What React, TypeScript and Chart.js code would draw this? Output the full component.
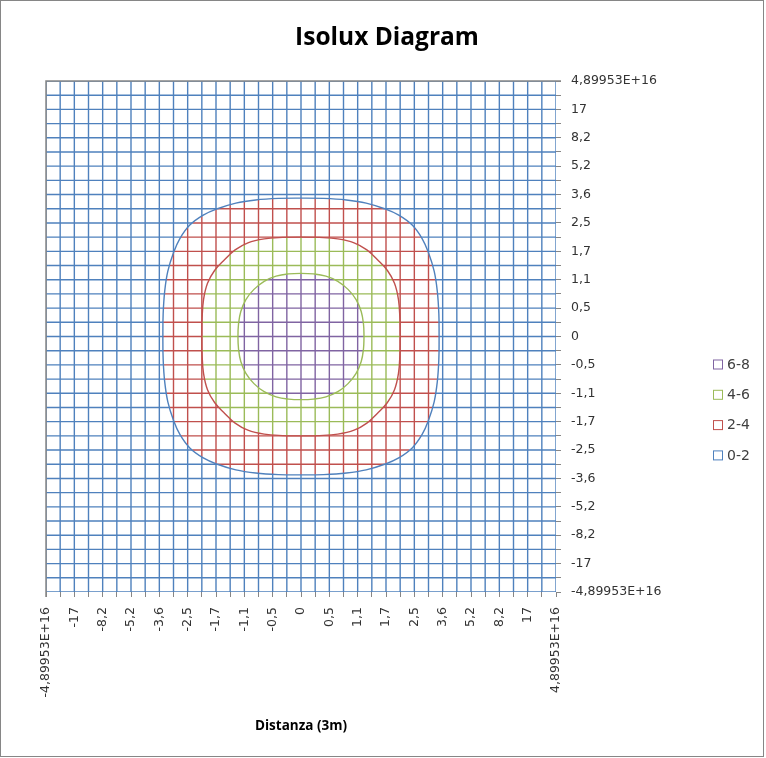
import React, { useEffect, useRef } from 'react';
import { Chart, registerables } from 'chart.js';

Chart.register(...registerables);

// Tick labels (3m * tan(angle), angle step 10°), shown on every other grid line
const axisLabels = [
  '-4,89953E+16', '-17', '-8,2', '-5,2', '-3,6', '-2,5', '-1,7', '-1,1', '-0,5', '0',
  '0,5', '1,1', '1,7', '2,5', '3,6', '5,2', '8,2', '17', '4,89953E+16',
];

// Legend bands (top to bottom)
const bandLabels = ['6-8', '4-6', '2-4', '0-2'];
const bandColors = ['#8064A2', '#9BBB59', '#C0504D', '#4F81BD'];

// Isolux contour curves, one quadrant each
// (offset from centre in grid cells; the diagram is symmetric)
const contour2 = [
  [9.75, 0], [9.73, 1.6], [9.62, 3.2], [9.4, 4.6], [9.0, 5.9], [8.55, 6.9], [7.85, 7.85],
  [6.9, 8.55], [5.9, 9.0], [4.6, 9.4], [3.2, 9.62], [1.6, 9.73], [0, 9.75],
];
const contour4 = [
  [7.0, 0], [6.98, 1.3], [6.88, 2.6], [6.6, 3.75], [6.1, 4.65], [5.4, 5.4],
  [4.65, 6.1], [3.75, 6.6], [2.6, 6.88], [1.3, 6.98], [0, 7.0],
];
const contour6 = [
  [4.45, 0], [4.41, 0.88], [4.25, 1.76], [3.89, 2.6], [3.32, 3.32],
  [2.6, 3.89], [1.76, 4.25], [0.88, 4.41], [0, 4.45],
];

const GRID_N = 36;
const C = GRID_N / 2;

type P = { x: number; y: number };

function crossAt(curve: number[][], v: number): number | null {
  for (let i = 0; i < curve.length - 1; i++) {
    const [a0, b0] = curve[i];
    const [a1, b1] = curve[i + 1];
    const lo = Math.min(b0, b1), hi = Math.max(b0, b1);
    if (v >= lo && v <= hi) {
      if (hi === lo) return Math.max(a0, a1);
      const t = (v - b0) / (b1 - b0);
      return a0 + t * (a1 - a0);
    }
  }
  return null;
}

function buildGrid() {
  const bands: P[][] = [[], [], [], []]; // 0-2, 2-4, 4-6, 6-8
  const curves = [contour2, contour4, contour6];
  const swapped = curves.map((c) => c.map(([x, y]) => [y, x]));
  for (let i = 0; i <= GRID_N; i++) {
    const k = i - C;
    for (const dir of ['h', 'v']) {
      const cs = dir === 'h' ? curves : swapped;
      const w = cs.map((c) => crossAt(c, Math.abs(k)));
      const segs: [number, number, number][] = [];
      if (w[0] == null) segs.push([0, -C, C]);
      else {
        segs.push([0, -C, -w[0]], [0, w[0], C]);
        if (w[1] == null) segs.push([1, -w[0], w[0]]);
        else {
          segs.push([1, -w[0], -w[1]], [1, w[1], w[0]]);
          if (w[2] == null) segs.push([2, -w[1], w[1]]);
          else segs.push([2, -w[1], -w[2]], [2, w[2], w[1]], [3, -w[2], w[2]]);
        }
      }
      for (const [b, a, e] of segs) {
        if (dir === 'h') bands[b].push({ x: C + a, y: C + k }, { x: C + e, y: C + k });
        else bands[b].push({ x: C + k, y: C + a }, { x: C + k, y: C + e });
        bands[b].push({ x: NaN, y: NaN });
      }
    }
  }
  return bands;
}

function loop(q: number[][]): P[] {
  const pts: P[] = [];
  q.forEach(([x, y]) => pts.push({ x: C + x, y: C + y }));
  q.slice().reverse().slice(1).forEach(([x, y]) => pts.push({ x: C - x, y: C + y }));
  q.slice(1).forEach(([x, y]) => pts.push({ x: C - x, y: C - y }));
  q.slice().reverse().slice(1).forEach(([x, y]) => pts.push({ x: C + x, y: C - y }));
  return pts;
}

const decorPlugin = {
  id: 'decor',
  afterDatasetsDraw(chart: any) {
    const { ctx, chartArea } = chart;
    ctx.save();
    ctx.strokeStyle = '#868686';
    ctx.lineWidth = 1.5;
    ctx.beginPath();
    ctx.moveTo(chartArea.left, chartArea.bottom + 5);
    ctx.lineTo(chartArea.left, chartArea.top);
    ctx.lineTo(chartArea.right + 5, chartArea.top);
    ctx.stroke();
    ctx.restore();
  },
  afterDraw(chart: any) {
    const { ctx, chartArea } = chart;
    ctx.save();
    // outer frame
    ctx.strokeStyle = '#868686';
    ctx.lineWidth = 1;
    ctx.strokeRect(0.5, 0.5, 763, 756);
    // title
    ctx.fillStyle = '#000';
    ctx.font = 'bold 24.5px "Open Sans"';
    ctx.textAlign = 'center';
    ctx.textBaseline = 'middle';
    ctx.fillText('Isolux Diagram', 387, 38);
    // axis title
    ctx.font = 'bold 13.5px "Open Sans"';
    ctx.fillText('Distanza (3m)', (chartArea.left + chartArea.right) / 2, 726);
    // legend
    ctx.textAlign = 'left';
    ctx.font = '14px "DejaVu Sans"';
    bandLabels.forEach((lab, i) => {
      const y = 364.5 + i * 30.3;
      ctx.fillStyle = '#fff';
      ctx.fillRect(713.5, y - 4.5, 9, 9);
      ctx.strokeStyle = bandColors[i];
      ctx.lineWidth = 1;
      ctx.strokeRect(713.5, y - 4.5, 9, 9);
      ctx.fillStyle = '#404040';
      ctx.fillText(lab, 727, y + 0.5);
    });
    ctx.restore();
  },
};

export default function App() {
  const ref = useRef<HTMLCanvasElement>(null);
  useEffect(() => {
    if (!ref.current) return;
    const bands = buildGrid();
    const gridColors = ['#4F81BD', '#C0504D', '#9BBB59', '#8064A2'];
    const gridNames = ['0-2', '2-4', '4-6', '6-8'];
    const datasets: any[] = bands.map((data, i) => ({
      label: gridNames[i],
      data,
      showLine: true,
      spanGaps: false,
      borderColor: gridColors[i],
      borderWidth: 1.4,
      pointRadius: 0,
      tension: 0,
      order: 10 - i,
    }));
    const contours = [
      { q: contour2, color: '#4F81BD' },
      { q: contour4, color: '#C0504D' },
      { q: contour6, color: '#9BBB59' },
    ];
    contours.forEach((c, i) => {
      datasets.push({
        label: 'contour' + i,
        data: loop(c.q),
        showLine: true,
        borderColor: c.color,
        borderWidth: 1.4,
        pointRadius: 0,
        tension: 0.4,
        order: 1,
      });
    });
    const tickFont = { family: '"DejaVu Sans"', size: 12.5 };
    const cb = (v: any) => (Number(v) % 2 === 0 ? axisLabels[Number(v) / 2] : '');
    const chart = new Chart(ref.current, {
      type: 'scatter',
      data: { datasets },
      options: {
        responsive: false,
        devicePixelRatio: 1,
        animation: false,
        layout: { padding: { left: 46, top: 81, right: 0, bottom: 0 } },
        plugins: { legend: { display: false }, title: { display: false }, tooltip: { enabled: false } },
        scales: {
          x: {
            type: 'linear', min: 0, max: GRID_N, position: 'bottom',
            afterFit: (s: any) => { s.height = 166; },
            ticks: {
              stepSize: 1, autoSkip: false, maxTicksLimit: 100, maxRotation: 90, minRotation: 90,
              padding: 10, font: tickFont, color: '#333', callback: cb,
            },
            grid: { drawOnChartArea: false, drawTicks: true, tickLength: 5, color: '#868686' },
            border: { display: false },
          },
          y: {
            type: 'linear', min: 0, max: GRID_N, position: 'right',
            afterFit: (s: any) => { s.width = 210; },
            ticks: {
              stepSize: 1, autoSkip: false, maxTicksLimit: 100,
              padding: 10, font: tickFont, color: '#333', callback: cb,
            },
            grid: { drawOnChartArea: false, drawTicks: true, tickLength: 5, color: '#868686' },
            border: { display: false },
          },
        },
      } as any,
      plugins: [decorPlugin],
    });
    return () => chart.destroy();
  }, []);
  return (
    <canvas
      ref={ref}
      width={766}
      height={758}
      style={{ position: 'absolute', left: 0, top: 0, display: 'block', background: '#fff' }}
    />
  );
}
